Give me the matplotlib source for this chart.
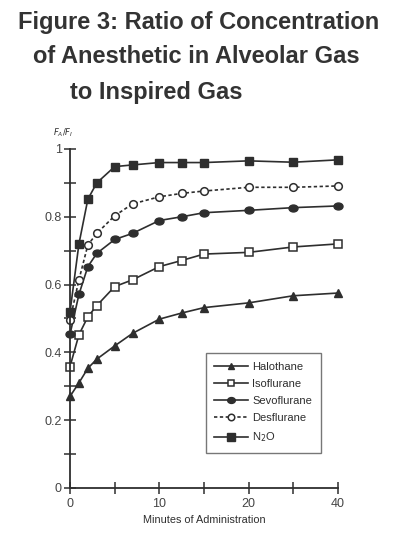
import numpy as np
import matplotlib
matplotlib.use("Agg")
import matplotlib.pyplot as plt
from matplotlib.markers import MarkerStyle
from matplotlib.transforms import Affine2D

# minutes of administration (x values shared by all agents)
minutes = [0, 1, 2, 3, 5, 7, 10, 12.5, 15, 20, 30, 40]

# FA/FI ratio
halothane = [0.27, 0.31, 0.353, 0.38, 0.419, 0.456, 0.498, 0.516, 0.532, 0.546, 0.567, 0.575]
isoflurane = [0.358, 0.452, 0.505, 0.538, 0.594, 0.614, 0.653, 0.671, 0.69, 0.695, 0.711, 0.72]
sevoflurane = [0.453, 0.571, 0.653, 0.692, 0.733, 0.751, 0.789, 0.80, 0.812, 0.819, 0.827, 0.832]
desflurane = [0.496, 0.614, 0.717, 0.751, 0.803, 0.838, 0.859, 0.869, 0.876, 0.887, 0.887, 0.891]
n2o = [0.519, 0.72, 0.852, 0.90, 0.948, 0.953, 0.96, 0.96, 0.96, 0.965, 0.961, 0.968]

x_ticks = [0, 10, 20, 40]
x_minor = [5, 15, 30]
y_ticks = [0, 0.2, 0.4, 0.6, 0.8, 1]
y_tick_labels = ["0", "0.2", "0.4", "0.6", "0.8", "1"]
y_minor = [0.1, 0.3, 0.5, 0.7, 0.9]

ink = "#2e2e2e"
plt.rcParams["font.family"] = ["Liberation Sans", "DejaVu Sans"]


# x axis is linear up to 20 min, then compressed by half
def fwd(x):
    x = np.asarray(x, dtype=float)
    return np.where(x <= 20, x, 20 + (x - 20) / 2)


def inv(u):
    u = np.asarray(u, dtype=float)
    return np.where(u <= 20, u, 20 + (u - 20) * 2)


fig = plt.figure(figsize=(4, 5.35), dpi=100)
ax = fig.add_axes([0.175, 0.088, 0.67, 0.6335])
ax.set_xscale("function", functions=(fwd, inv))
ax.set_xlim(0, 40)
ax.set_ylim(0, 1)

ellipse = MarkerStyle("o", transform=Affine2D().scale(1.3, 1.0))

ax.plot(minutes, halothane, color=ink, lw=1.2, marker="^", ms=5.5,
        mfc=ink, mec=ink, label="Halothane", clip_on=False)
ax.plot(minutes, isoflurane, color=ink, lw=1.2, marker="s", ms=5.5,
        mfc="white", mec=ink, mew=1.1, label="Isoflurane", clip_on=False)
ax.plot(minutes, sevoflurane, color=ink, lw=1.2, marker=ellipse, ms=5,
        mfc=ink, mec=ink, label="Sevoflurane", clip_on=False)
ax.plot(minutes, desflurane, color=ink, lw=1.2, ls=(0, (2, 1.5)), marker="o", ms=5.5,
        mfc="white", mec=ink, mew=1.1, label="Desflurane", clip_on=False)
ax.plot(minutes, n2o, color=ink, lw=1.2, marker="s", ms=6,
        mfc=ink, mec=ink, label="N$_2$O", clip_on=False)

for s in ["top", "right"]:
    ax.spines[s].set_visible(False)
for s in ["left", "bottom"]:
    ax.spines[s].set_linewidth(1.3)
    ax.spines[s].set_color(ink)

ax.set_xticks(x_ticks)
ax.set_xticklabels([str(t) for t in x_ticks])
ax.set_xticks(x_minor, minor=True)
ax.set_yticks(y_ticks)
ax.set_yticklabels(y_tick_labels)
ax.set_yticks(y_minor, minor=True)
ax.tick_params(which="both", direction="inout", length=8, width=1.1, color=ink,
               labelsize=9, labelcolor="#444444")
ax.tick_params(axis="y", which="both", pad=2)

ax.set_xlabel("Minutes of Administration", fontsize=7.8, color=ink, labelpad=3)
ax.text(-0.026, 1.03, "$F_A/F_I$", transform=ax.transAxes, fontsize=6, color=ink,
        ha="center", va="bottom")

leg = ax.legend(loc="upper left", bbox_to_anchor=(0.485, 0.415), frameon=True,
                fancybox=False, edgecolor="#555555", handlelength=3.0,
                prop={"size": 8}, markerscale=0.85,
                labelspacing=0.65, borderpad=0.8, handletextpad=0.4)
leg.get_frame().set_linewidth(1.0)
for t in leg.get_texts():
    t.set_color(ink)

title_lines = [("Figure 3: Ratio of Concentration", 18, 22),
               ("of Anesthetic in Alveolar Gas", 33, 57),
               ("to Inspired Gas", 70, 92)]
for txt, px, py in title_lines:
    fig.text(px / 400, 1 - py / 535, txt, fontsize=17, fontweight="bold",
             color="#333333", ha="left", va="center")

fig.savefig("out.png", dpi=100)
